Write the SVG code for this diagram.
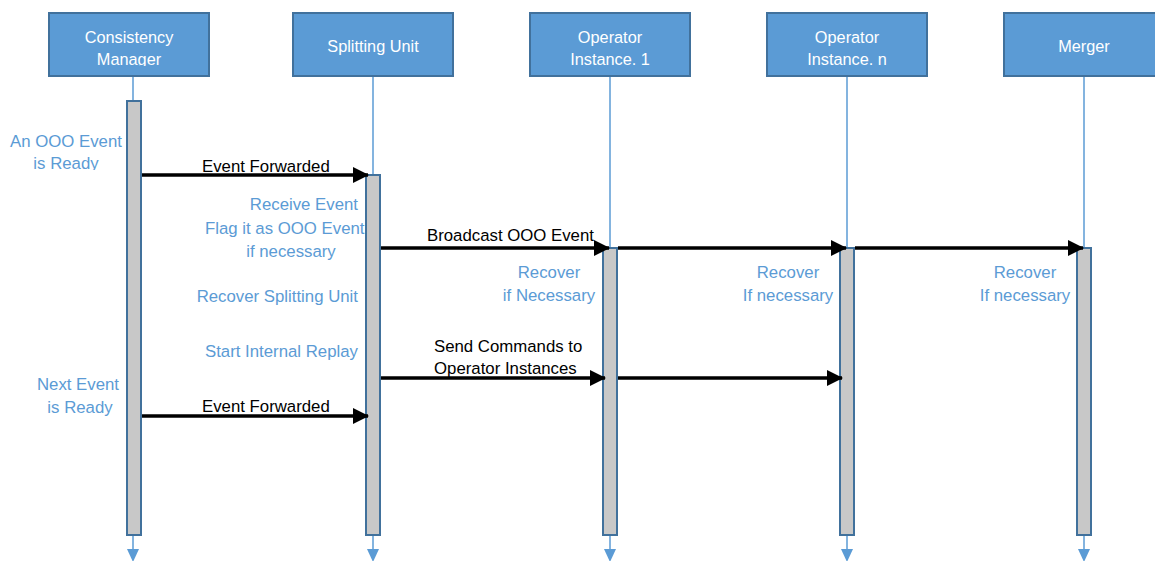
<svg xmlns="http://www.w3.org/2000/svg" width="1155" height="561" viewBox="0 0 1155 561">
<style>
.box{fill:#5B9BD5;stroke:#41719C;stroke-width:2}
.bt{fill:#fff;font-family:"Liberation Sans",Arial,sans-serif;font-size:16.3px;text-anchor:middle}
.life{stroke:#5B9BD5;stroke-width:1.5;fill:none}
.lh{fill:#5B9BD5}
.bar{fill:#C8C8C8;stroke:#41719C;stroke-width:2}
.msg{stroke:#000;stroke-width:3.5;fill:none;marker-end:url(#ah)}
.ml{fill:#000;font-family:"Liberation Sans",Arial,sans-serif;font-size:16.8px}
.note{fill:#5B9BD5;font-family:"Liberation Sans",Arial,sans-serif;font-size:16.8px}
</style>
<defs>
<marker id="ah" markerUnits="userSpaceOnUse" markerWidth="16" markerHeight="16" refX="15" refY="8" orient="auto">
<path d="M0,0 L16,8 L0,16 z" fill="#000"/>
</marker>
<clipPath id="c1"><rect x="0" y="0" width="1155" height="66"/></clipPath>
<clipPath id="c2"><rect x="0" y="120" width="1155" height="50"/></clipPath>
</defs>

<g id="notes">
<text class="note" x="66" y="147" text-anchor="middle">An OOO Event</text>
<g clip-path="url(#c2)"><text class="note" x="66" y="169" text-anchor="middle">is Ready</text></g>
<text class="note" x="358" y="210" text-anchor="end">Receive Event</text>
<text class="note" x="205" y="234">Flag it as OOO Event</text>
<text class="note" x="291" y="257" text-anchor="middle">if necessary</text>
<text class="note" x="358" y="302" text-anchor="end">Recover Splitting Unit</text>
<text class="note" x="358" y="357" text-anchor="end">Start Internal Replay</text>
<text class="note" x="78" y="390" text-anchor="middle">Next Event</text>
<text class="note" x="80" y="413" text-anchor="middle">is Ready</text>
<text class="note" x="549" y="278" text-anchor="middle">Recover</text>
<text class="note" x="549" y="301" text-anchor="middle">if Necessary</text>
<text class="note" x="788" y="278" text-anchor="middle">Recover</text>
<text class="note" x="788" y="301" text-anchor="middle">If necessary</text>
<text class="note" x="1025" y="278" text-anchor="middle">Recover</text>
<text class="note" x="1025" y="301" text-anchor="middle">If necessary</text>
</g>

<g id="consistency-manager">
<rect class="box" x="49" y="13" width="160" height="63"/>
<g clip-path="url(#c1)">
<text class="bt" x="129" y="43">Consistency</text>
<text class="bt" x="129" y="65">Manager</text>
</g>
<line class="life" x1="133" y1="77" x2="133" y2="549"/>
<rect class="bar" x="127" y="101" width="14" height="434"/>
<path class="lh" d="M127,549 L139,549 L133,562 z"/>
</g>

<g id="splitting-unit">
<rect class="box" x="293" y="13" width="160" height="63"/>
<text class="bt" x="373" y="52">Splitting Unit</text>
<line class="life" x1="373" y1="77" x2="373" y2="549"/>
<rect class="bar" x="366" y="175" width="14" height="360"/>
<path class="lh" d="M367,549 L379,549 L373,562 z"/>
</g>

<g id="operator-instance-1">
<rect class="box" x="530" y="13" width="160" height="63"/>
<text class="bt" x="610" y="43">Operator</text>
<text class="bt" x="610" y="65">Instance. 1</text>
<line class="life" x1="610" y1="77" x2="610" y2="549"/>
<rect class="bar" x="603" y="248" width="14" height="287"/>
<path class="lh" d="M604,549 L616,549 L610,562 z"/>
</g>

<g id="operator-instance-n">
<rect class="box" x="767" y="13" width="160" height="63"/>
<text class="bt" x="847" y="43">Operator</text>
<text class="bt" x="847" y="65">Instance. n</text>
<line class="life" x1="847" y1="77" x2="847" y2="549"/>
<rect class="bar" x="840" y="248" width="14" height="287"/>
<path class="lh" d="M841,549 L853,549 L847,562 z"/>
</g>

<g id="merger">
<rect class="box" x="1004" y="13" width="160" height="63"/>
<text class="bt" x="1084" y="52">Merger</text>
<line class="life" x1="1084" y1="77" x2="1084" y2="549"/>
<rect class="bar" x="1077" y="248" width="14" height="287"/>
<path class="lh" d="M1078,549 L1090,549 L1084,562 z"/>
</g>

<g id="connectors">
<line class="msg" x1="142" y1="175" x2="368" y2="175"/>
<line class="msg" x1="381" y1="248" x2="609" y2="248"/>
<line class="msg" x1="618" y1="248" x2="846" y2="248"/>
<line class="msg" x1="855" y1="248" x2="1083" y2="248"/>
<line class="msg" x1="381" y1="378" x2="605" y2="378"/>
<line class="msg" x1="618" y1="378" x2="842" y2="378"/>
<line class="msg" x1="142" y1="416" x2="368" y2="416"/>
<text class="ml" x="202" y="172">Event Forwarded</text>
<text class="ml" x="427" y="241">Broadcast OOO Event</text>
<text class="ml" x="434" y="352">Send Commands to</text>
<text class="ml" x="434" y="374">Operator Instances</text>
<text class="ml" x="202" y="412">Event Forwarded</text>
</g>
</svg>
